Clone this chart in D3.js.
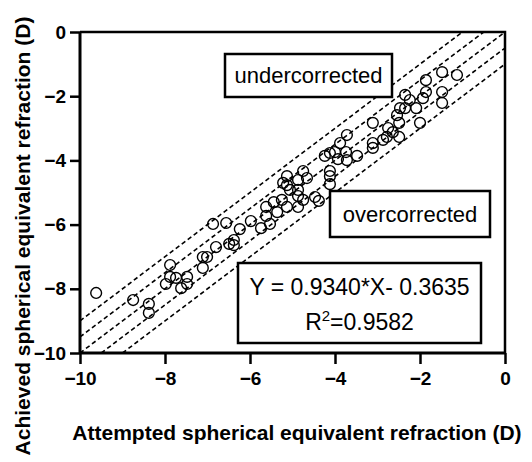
<!DOCTYPE html>
<html>
<head>
<meta charset="utf-8">
<script src="https://cdn.jsdelivr.net/npm/d3@7"></script>
<style>
  html, body { margin: 0; padding: 0; background: #fff; }
  svg { display: block; }
  text { font-family: "Liberation Sans", Arial, sans-serif; fill: #000; }
</style>
</head>
<body>
<svg id="chart" width="532" height="462"></svg>
<script>
// Attempted vs achieved spherical equivalent refraction (D), one entry per eye
const attempted = [
  -9.62, -8.75, -8.38, -8.38, -7.98, -7.88, -7.88, -7.74, -7.62, -7.48,
  -7.48, -7.11, -7.01, -7.11, -6.87, -6.56, -6.80, -6.49, -6.38, -6.38,
  -6.24, -5.98, -5.74, -5.62, -5.62, -5.53, -5.44, -5.36, -5.25, -5.13,
  -5.22, -5.13, -5.13, -5.06, -4.87, -4.87, -4.87, -4.87, -4.75, -4.66,
  -4.75, -4.47, -4.38, -4.24, -4.12, -4.00, -3.93, -3.88, -3.74, -3.72,
  -3.72, -3.48, -4.12, -4.12, -4.12, -3.11, -3.11, -2.87, -2.78, -2.49,
  -2.64, -2.75, -3.11, -2.49, -2.00, -2.54, -2.47, -2.35, -2.09, -2.24,
  -2.35, -1.93, -1.86, -1.86, -1.48, -1.13, -1.48, -1.48
];
const achieved = [
  -8.13, -8.35, -8.47, -8.75, -7.85, -7.26, -7.63, -7.66, -7.98, -7.63,
  -7.85, -7.01, -7.01, -7.35, -5.98, -5.95, -6.70, -6.60, -6.48, -6.64,
  -6.14, -5.89, -6.11, -5.45, -5.73, -5.98, -5.30, -5.61, -5.23, -5.45,
  -4.70, -4.49, -4.77, -4.92, -4.61, -4.92, -5.11, -5.45, -4.33, -4.55,
  -5.23, -5.14, -5.26, -3.86, -3.77, -3.74, -3.96, -3.46, -3.74, -3.21,
  -3.99, -3.86, -4.33, -4.49, -4.74, -3.61, -3.46, -3.36, -3.27, -3.27,
  -3.12, -2.99, -2.83, -2.83, -2.83, -2.59, -2.37, -2.37, -2.37, -2.12,
  -1.96, -2.06, -1.87, -1.50, -1.25, -1.34, -1.87, -2.21
];

// Reference lines Y = X + offset (identity and ±0.5 D, ±1.0 D bands)
const lineOffsets = [1, 0.5, 0, -0.5, -1];

const xTicks = [-10, -8, -6, -4, -2, 0];
const yTicks = [0, -2, -4, -6, -8, -10];

const xTitle = "Attempted spherical equivalent refraction (D)";
const yTitle = "Achieved spherical equivalent refraction (D)";
const fitText = "Y = 0.9340*X- 0.3635";
const r2Value = "=0.9582";

const svg = d3.select("#chart");
const margin = { left: 80, top: 32, right: 27, bottom: 109 };
const W = 532, H = 462;

const x = d3.scaleLinear().domain([-10, 0]).range([margin.left, W - margin.right]);
const y = d3.scaleLinear().domain([-10, 0]).range([H - margin.bottom, margin.top]);

const points = attempted.map((a, i) => ({ a, b: achieved[i] }));

// frame (top and right sides)
svg.append("path")
  .attr("d", `M${x(-10)},${y(0)}H${x(0)}V${y(-10)}`)
  .attr("fill", "none").attr("stroke", "#000").attr("stroke-width", 2.5);

// dashed reference lines, clipped to the plotting square
const refLine = svg.append("g");
lineOffsets.forEach(c => {
  const x0 = Math.max(-10, -10 - c), x1 = Math.min(0, -c);
  refLine.append("line")
    .attr("x1", x(x0)).attr("y1", y(x0 + c))
    .attr("x2", x(x1)).attr("y2", y(x1 + c))
    .attr("stroke", "#000").attr("stroke-width", 1.6)
    .attr("stroke-dasharray", "4.5,3");
});

// scatter
svg.append("g").selectAll("circle").data(points).join("circle")
  .attr("cx", d => x(d.a)).attr("cy", d => y(d.b)).attr("r", 5.4)
  .attr("fill", "none").attr("stroke", "#000").attr("stroke-width", 1.4);

// axes
const xAxis = svg.append("g").attr("transform", `translate(0,${y(-10)})`)
  .call(d3.axisBottom(x).tickValues(xTicks).tickSize(11).tickPadding(7).tickFormat(d3.format("d")));
const yAxis = svg.append("g").attr("transform", `translate(${x(-10)},0)`)
  .call(d3.axisLeft(y).tickValues(yTicks).tickSize(10).tickPadding(4).tickFormat(d3.format("d")));
[xAxis, yAxis].forEach(g => {
  g.select(".domain").attr("stroke-width", 3).attr("d",
    g === xAxis ? `M${x(-10)},0H${x(0)}` : `M0,${y(-10)}V${y(0)}`);
  g.selectAll(".tick line").attr("stroke-width", 2.5);
  g.selectAll(".tick text").style("font-family", "'Liberation Sans', Arial, sans-serif")
    .style("font-size", "19px").style("font-weight", "bold").attr("fill", "#000");
});
xAxis.selectAll(".tick text").attr("dy", "0.75em");

// axis titles
svg.append("text").attr("x", 297).attr("y", 440)
  .attr("text-anchor", "middle").style("font-size", "21px").style("font-weight", "bold")
  .text(xTitle);
svg.append("text").attr("transform", "translate(30,236) rotate(-90)")
  .attr("text-anchor", "middle").style("font-size", "21px").style("font-weight", "bold")
  .text(yTitle);

// annotation boxes
function box(x0, y0, w, h) {
  svg.append("rect").attr("x", x0).attr("y", y0).attr("width", w).attr("height", h)
    .attr("fill", "#fff").attr("stroke", "#000").attr("stroke-width", 2.5);
}
box(225, 54, 167, 43);
svg.append("text").attr("x", 308.5).attr("y", 83).attr("text-anchor", "middle")
  .style("font-size", "22px").text("undercorrected");

box(330, 191, 160, 46);
svg.append("text").attr("x", 410).attr("y", 222).attr("text-anchor", "middle")
  .style("font-size", "22px").text("overcorrected");

box(238, 263, 243, 80);
svg.append("text").attr("x", 359.5).attr("y", 295).attr("text-anchor", "middle")
  .style("font-size", "23px").text(fitText);
const r2 = svg.append("text").attr("x", 359.5).attr("y", 330).attr("text-anchor", "middle")
  .style("font-size", "23px");
r2.append("tspan").text("R");
r2.append("tspan").attr("dy", -9).style("font-size", "15px").text("2");
r2.append("tspan").attr("dy", 9).text(r2Value);
</script>
</body>
</html>
